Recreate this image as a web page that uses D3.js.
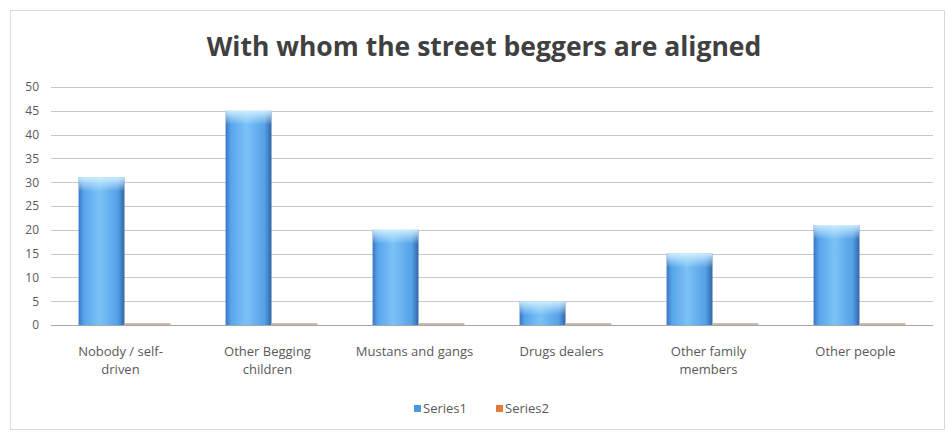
<!DOCTYPE html>
<html>
<head>
<meta charset="utf-8">
<script src="https://cdn.jsdelivr.net/npm/d3@7"></script>
<style>
  body { margin: 0; background: #fff; }
  #visual { width: 948px; height: 433px; }
  text { font-family: "Open Sans", "Liberation Sans", sans-serif; }
</style>
</head>
<body>
<div id="visual"></div>
<script>
var categories = [['Nobody / self-', 'driven'], ['Other Begging', 'children'], ['Mustans and gangs'], ['Drugs dealers'], ['Other family', 'members'], ['Other people']];
var series1 = [31, 45, 20, 5, 15, 21];
var series2 = [0.4, 0.4, 0.4, 0.4, 0.4, 0.4];
var seriesNames = ['Series1', 'Series2'];
var yTicks = [0, 5, 10, 15, 20, 25, 30, 35, 40, 45, 50];

var width = 948, height = 433;

var margin = { top: 87, bottom: 108, left: 51, right: 15 };
var innerW = width - margin.left - margin.right;
var innerH = height - margin.top - margin.bottom;

var svg = d3.select('#visual')
    .append('svg')
    .attr('width', width)
    .attr('height', height);

var defs = svg.append('defs');
var grad = defs.append('linearGradient').attr('id', 'blueBar')
    .attr('x1', '0%').attr('x2', '100%').attr('y1', '0%').attr('y2', '0%');
grad.append('stop').attr('offset', '0%').attr('stop-color', '#3a77c2');
grad.append('stop').attr('offset', '12%').attr('stop-color', '#58a5ec');
grad.append('stop').attr('offset', '45%').attr('stop-color', '#7cc2f7');
grad.append('stop').attr('offset', '85%').attr('stop-color', '#55a1e8');
grad.append('stop').attr('offset', '100%').attr('stop-color', '#3366a8');

var shine = defs.append('linearGradient').attr('id', 'topShine')
    .attr('x1', '0%').attr('x2', '0%').attr('y1', '0%').attr('y2', '100%');
shine.append('stop').attr('offset', '0%').attr('stop-color', '#d8f4ff').attr('stop-opacity', 0.9);
shine.append('stop').attr('offset', '100%').attr('stop-color', '#d8f4ff').attr('stop-opacity', 0);

// chart border
svg.append('rect')
    .attr('x', 10.5).attr('y', 10.5)
    .attr('width', width - 14).attr('height', height - 14)
    .attr('fill', 'none')
    .attr('stroke', '#d9d9d9');

svg.append('text')
    .attr('x', 484)
    .attr('y', 56)
    .attr('text-anchor', 'middle')
    .attr('font-size', '26.5px')
    .attr('font-weight', 'bold')
    .attr('fill', '#404040')
    .text('With whom the street beggers are aligned');

var g = svg.append('g')
    .attr('transform', 'translate(' + margin.left + ',' + margin.top + ')');

var x_scale = d3.scaleBand()
    .domain(d3.range(categories.length))
    .range([0, innerW]);

var x_inner = d3.scaleBand()
    .domain([0, 1])
    .range([0, x_scale.bandwidth()])
    .paddingOuter(0.6)
    .paddingInner(0);

var y_scale = d3.scaleLinear()
    .domain([0, 50])
    .range([innerH, 0]);

// gridlines
g.append('g')
    .selectAll('line')
    .data(yTicks)
    .enter().append('line')
    .attr('x1', 0)
    .attr('x2', innerW)
    .attr('y1', function (d) { return Math.round(y_scale(d)) + 0.5; })
    .attr('y2', function (d) { return Math.round(y_scale(d)) + 0.5; })
    .attr('stroke', function (d) { return d === 0 ? '#a6a6a6' : '#c8c8c8'; })
    .attr('stroke-width', 1);

var y_axis = d3.axisLeft(y_scale).tickValues(yTicks).tickSize(0).tickPadding(12);
g.append('g')
    .attr('class', 'y axis')
    .call(y_axis)
    .call(function (s) { s.select('.domain').remove(); })
    .selectAll('text')
    .attr('font-size', '12px')
    .attr('fill', '#595959');

// series1 bars
var groups = g.selectAll('.cat')
    .data(categories)
    .enter().append('g')
    .attr('class', 'cat')
    .attr('transform', function (d, i) { return 'translate(' + x_scale(i) + ',0)'; });

groups.append('rect')
    .attr('x', x_inner(0))
    .attr('width', x_inner.bandwidth())
    .attr('y', function (d, i) { return y_scale(series1[i]); })
    .attr('height', function (d, i) { return innerH - y_scale(series1[i]); })
    .attr('fill', 'url(#blueBar)');

groups.append('rect')
    .attr('x', x_inner(0))
    .attr('width', x_inner.bandwidth())
    .attr('y', function (d, i) { return y_scale(series1[i]); })
    .attr('height', 14)
    .attr('fill', 'url(#topShine)');

groups.append('rect')
    .attr('x', x_inner(1))
    .attr('width', x_inner.bandwidth())
    .attr('y', function (d, i) { return y_scale(series2[i]); })
    .attr('height', function (d, i) { return innerH - y_scale(series2[i]); })
    .attr('fill', '#c9b8a8');

// category labels
groups.append('text')
    .attr('text-anchor', 'middle')
    .attr('font-size', '13px')
    .attr('fill', '#595959')
    .selectAll('tspan')
    .data(function (d) { return d; })
    .enter().append('tspan')
    .attr('x', x_scale.bandwidth() / 2 - 4)
    .attr('y', function (d, i) { return innerH + 31 + i * 18; })
    .text(function (d) { return d; });

// legend
var legend = svg.append('g')
    .attr('transform', 'translate(414,410)');
var legendColors = ['#4a97e4', '#e07b39'];
var item = legend.selectAll('g')
    .data(seriesNames)
    .enter().append('g')
    .attr('transform', function (d, i) { return 'translate(' + (i * 82) + ',0)'; });
item.append('rect')
    .attr('x', 0).attr('y', -5)
    .attr('width', 7).attr('height', 7)
    .attr('fill', function (d, i) { return legendColors[i]; });
item.append('text')
    .attr('x', 9).attr('y', 3)
    .attr('font-size', '13px')
    .attr('fill', '#595959')
    .text(function (d) { return d; });
</script>
</body>
</html>
